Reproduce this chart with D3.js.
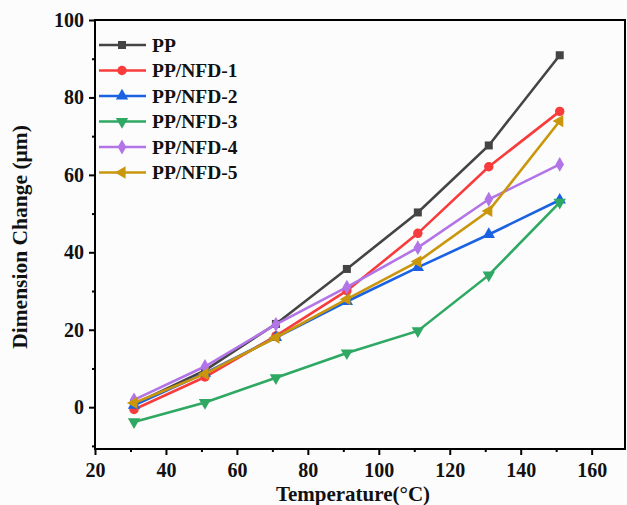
<!DOCTYPE html>
<html>
<head>
<meta charset="utf-8">
<script src="https://cdn.jsdelivr.net/npm/d3@7"></script>
<style>
  body { margin: 0; background: #fcfcfc; }
  svg { display: block; }
  text { font-family: "Liberation Serif", "Times New Roman", serif; font-weight: bold; fill: #111; }
</style>
</head>
<body>
<svg id="canvas"></svg>
<script>
const temps = [31, 51, 71, 91, 111, 131, 151];

const names = ["PP", "PP/NFD-1", "PP/NFD-2", "PP/NFD-3", "PP/NFD-4", "PP/NFD-5"];
const pp     = [0.8, 9.5, 21.5, 35.7, 50.3, 67.6, 90.9];
const nfd1   = [-0.6, 7.8, 18.4, 30.1, 44.9, 62.1, 76.4];
const nfd2   = [0.5, 8.8, 18.0, 27.3, 36.1, 44.6, 53.5];
const nfd3   = [-3.8, 1.2, 7.6, 14.0, 19.7, 34.1, 52.9];
const nfd4   = [1.9, 10.5, 21.4, 31.0, 41.2, 53.7, 62.7];
const nfd5   = [1.1, 8.6, 18.0, 27.9, 37.6, 50.7, 73.9];

const xTicks = [20, 40, 60, 80, 100, 120, 140, 160];
const yTicks = [0, 20, 40, 60, 80, 100];

const colors = ["#444444", "#f83c3c", "#1a62e2", "#2ea862", "#b274e6", "#c9960c"];
const shapes = ["square", "circle", "up", "down", "diamond", "left"];

const width = 627;
const height = 505;
const padLeft = 95, padRight = 625, padTop = 20, padBottom = 449;

let canvas = d3.select('#canvas')
canvas.attr('width', width).attr('height', height)

let xScale = d3.scaleLinear().domain([20, 169.4]).range([padLeft, padRight])
let yScale = d3.scaleLinear().domain([-10.8, 100]).range([padBottom, padTop])

const series = [pp, nfd1, nfd2, nfd3, nfd4, nfd5]

const symbolPath = (shape) => {
    if (shape === 'square') return d3.symbol(d3.symbolSquare, 64)()
    if (shape === 'circle') return d3.symbol(d3.symbolCircle, 70)()
    if (shape === 'diamond') return d3.symbol(d3.symbolDiamond, 64)()
    return d3.symbol(d3.symbolTriangle, 66)()
}
const symbolRot = (shape) => {
    if (shape === 'down') return 180
    if (shape === 'left') return -90
    return 0
}

// frame
canvas.append('rect')
    .attr('x', padLeft).attr('y', padTop)
    .attr('width', padRight - padLeft).attr('height', padBottom - padTop)
    .attr('fill', 'none').attr('stroke', '#000').attr('stroke-width', 2)

// x axis
let xAxis = d3.axisBottom(xScale).tickValues(xTicks).tickSize(6).tickPadding(8)
canvas.append('g')
    .attr('transform', 'translate(0,' + padBottom + ')')
    .call(xAxis)
let xMinor = d3.axisBottom(xScale).tickValues([30, 50, 70, 90, 110, 130, 150]).tickSize(3).tickFormat('')
canvas.append('g')
    .attr('transform', 'translate(0,' + padBottom + ')')
    .call(xMinor)

// y axis
let yAxis = d3.axisLeft(yScale).tickValues(yTicks).tickSize(6).tickPadding(5)
canvas.append('g')
    .attr('transform', 'translate(' + padLeft + ',0)')
    .call(yAxis)
let yMinor = d3.axisLeft(yScale).tickValues([-10, 10, 30, 50, 70, 90]).tickSize(3).tickFormat('')
canvas.append('g')
    .attr('transform', 'translate(' + padLeft + ',0)')
    .call(yMinor)

canvas.selectAll('.domain').remove()
canvas.selectAll('.tick line').attr('stroke', '#000').attr('stroke-width', 2)
canvas.selectAll('.tick text')
    .style('font-family', '"Liberation Serif", serif')
    .style('font-weight', 'bold')
    .style('font-size', '20px')
    .attr('fill', '#111')

// axis titles
canvas.append('text')
    .attr('x', 353).attr('y', 500.5)
    .attr('text-anchor', 'middle')
    .style('font-size', '21px')
    .text('Temperature(°C)')

canvas.append('text')
    .attr('transform', 'translate(27,' + 237 + ') rotate(-90)')
    .attr('text-anchor', 'middle')
    .style('font-size', '21.5px')
    .text('Dimension Change (μm)')

// lines and markers
let line = d3.line()
    .x((d, i) => xScale(temps[i]))
    .y(d => yScale(d))

series.forEach((vals, k) => {
    let g = canvas.append('g')
    g.append('path')
        .datum(vals)
        .attr('d', line)
        .attr('fill', 'none')
        .attr('stroke', colors[k])
        .attr('stroke-width', 2.6)
    g.selectAll('path.mark')
        .data(vals)
        .enter()
        .append('path')
        .attr('class', 'mark')
        .attr('d', symbolPath(shapes[k]))
        .attr('fill', colors[k])
        .attr('transform', (d, i) => 'translate(' + xScale(temps[i]) + ',' + yScale(d) + ') rotate(' + symbolRot(shapes[k]) + ')')
})

// legend
let legend = canvas.append('g')
names.forEach((n, k) => {
    let y = 45 + k * 25.5
    legend.append('line')
        .attr('x1', 99).attr('x2', 146)
        .attr('y1', y).attr('y2', y)
        .attr('stroke', colors[k]).attr('stroke-width', 2.6)
    legend.append('path')
        .attr('d', symbolPath(shapes[k]))
        .attr('fill', colors[k])
        .attr('transform', 'translate(122,' + y + ') rotate(' + symbolRot(shapes[k]) + ')')
    legend.append('text')
        .attr('x', 152).attr('y', y + 6.5)
        .style('font-size', '19.5px')
        .text(n)
})
</script>
</body>
</html>
